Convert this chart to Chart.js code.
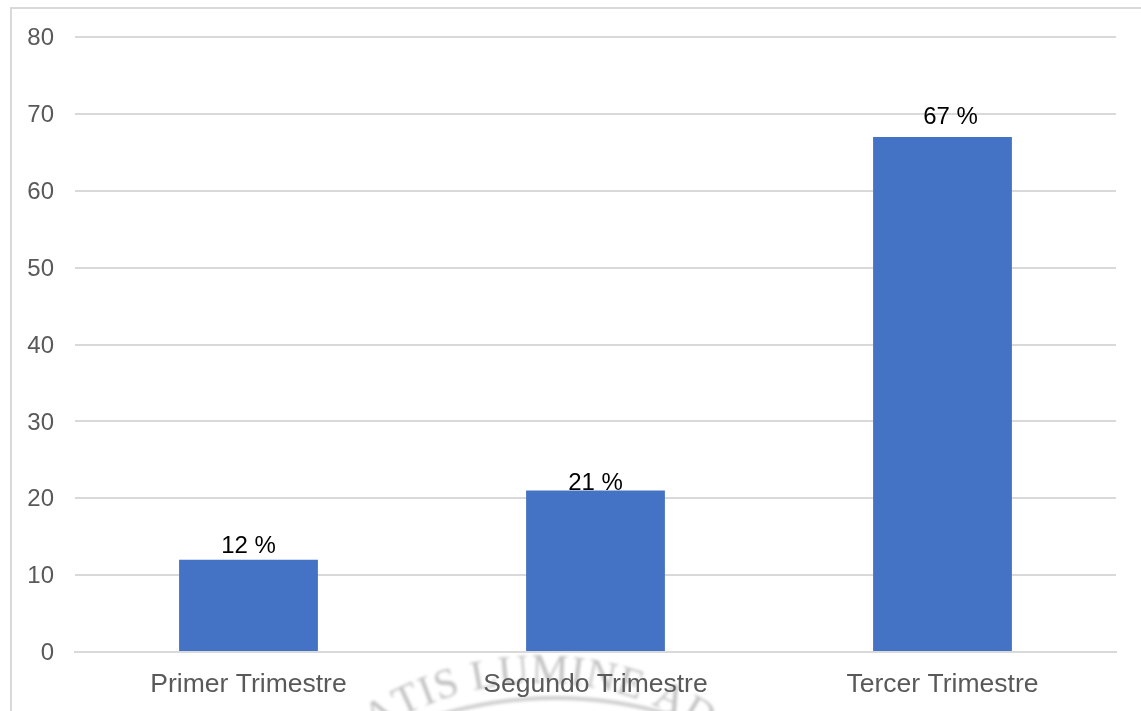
<!DOCTYPE html>
<html><head><meta charset="utf-8">
<style>html,body{margin:0;padding:0;background:#fff;overflow:hidden}#w{position:relative;width:1141px;height:711px}</style>
<script src="https://cdn.jsdelivr.net/npm/chart.js@4"></script>
</head><body><div id="w"><canvas id="c" width="1141" height="711"></canvas></div>
<script>
const categories = ["Primer Trimestre", "Segundo Trimestre", "Tercer Trimestre"];
const values = [12, 21, 67];
const valueLabels = ["12 %", "21 %", "67 %"];
const watermark = "ATIS LUMINE AD";

const FONT = '"Liberation Sans", Arial, sans-serif';
const labelShift = [[0, -2], [0, 0], [8, -9]];

const framePlugin = {
  id: 'frame',
  beforeDraw(chart) {
    const c = chart.ctx;
    c.save();
    c.fillStyle = '#fff';
    c.fillRect(0, 0, 1141, 711);
    c.strokeStyle = '#d9d9d9';
    c.lineWidth = 2;
    c.beginPath();
    c.moveTo(11, 711); c.lineTo(11, 8); c.lineTo(1141, 8);
    c.stroke();
    // faint seal lettering below the axis
    c.filter = 'blur(1.5px)';
    c.fillStyle = '#c2c2c2';
    c.strokeStyle = '#cfcfcf';
    c.font = '42px "Liberation Serif", serif';
    c.textAlign = 'left';
    const cx = 540, cy = 983, r = 300;
    const gap = 1;
    const chars = watermark.split('');
    const adv = chars.map(ch => c.measureText(ch).width + gap);
    const total = adv.reduce((a, b) => a + b, 0);
    let run = -total / 2;
    chars.forEach((ch, i) => {
      const a = -Math.PI / 2 + (run + adv[i] / 2) / r;
      c.save();
      c.translate(cx + r * Math.cos(a), cy + r * Math.sin(a));
      c.rotate(a + Math.PI / 2);
      c.fillText(ch, -adv[i] / 2, 0);
      c.restore();
      run += adv[i];
    });
    c.lineWidth = 4;
    c.beginPath();
    c.arc(555, 1100, 402, -Math.PI / 2 - 0.3, -Math.PI / 2 + 0.3);
    c.stroke();
    c.restore();
  }
};

const labelPlugin = {
  id: 'valueLabels',
  afterDatasetsDraw(chart) {
    const c = chart.ctx;
    const meta = chart.getDatasetMeta(0);
    c.save();
    c.fillStyle = '#000';
    c.font = '24px ' + FONT;
    c.textAlign = 'center';
    c.textBaseline = 'bottom';
    meta.data.forEach((bar, i) => {
      const [dx, dy] = labelShift[i];
      c.fillText(valueLabels[i], bar.x + dx, bar.y + (i === 1 ? 5 : 1) + dy);
    });
    c.restore();
  }
};

const chart = new Chart(document.getElementById('c'), {
  type: 'bar',
  data: {
    labels: categories,
    datasets: [{ data: values, backgroundColor: '#4472c4', barPercentage: 0.4, categoryPercentage: 1 }]
  },
  plugins: [framePlugin, labelPlugin],
  options: {
    responsive: false,
    animation: false,
    layout: { padding: { top: 37, right: 25, bottom: 0, left: 0 } },
    plugins: { legend: { display: false }, tooltip: { enabled: false } },
    scales: {
      x: {
        grid: { display: false },
        border: { color: '#d9d9d9', width: 2 },
        ticks: { color: '#595959', font: { family: FONT, size: 26.5 }, padding: 9, maxRotation: 0 },
        afterFit(s) { s.height = 59; }
      },
      y: {
        min: 0, max: 80,
        grid: { color: '#d9d9d9', lineWidth: 2, drawTicks: false },
        border: { display: false },
        ticks: { stepSize: 10, color: '#595959', font: { family: FONT, size: 24 }, padding: 21 },
        afterFit(s) { s.width = 75; }
      }
    }
  }
});
// y tick labels sit slightly lower than the gridlines in the reference
chart.scales.y.getLabelItems(chart.chartArea).forEach(it => { it.options.translation[1] += 1.5; });
chart.draw();
</script></body></html>
